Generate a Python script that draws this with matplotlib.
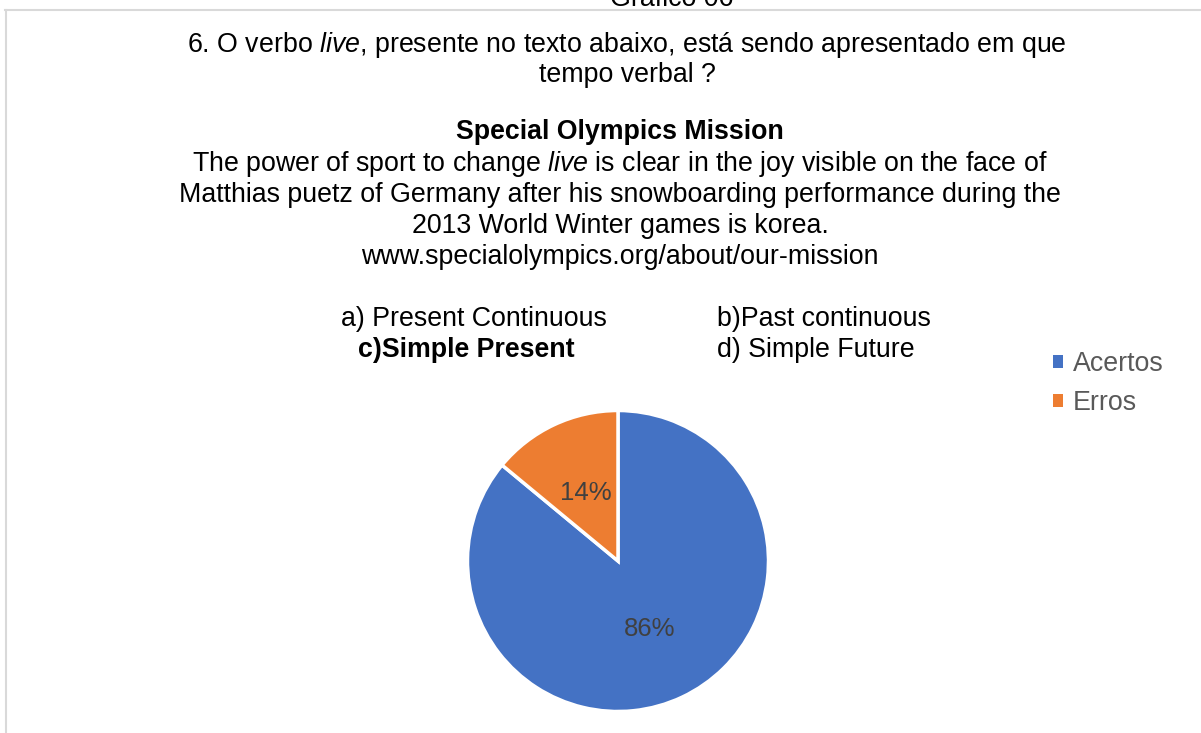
import matplotlib
matplotlib.use("Agg")
import matplotlib.pyplot as plt
from matplotlib.lines import Line2D

plt.rcParams['font.family'] = ['Liberation Sans', 'DejaVu Sans']
plt.rcParams['mathtext.fontset'] = 'custom'
plt.rcParams['mathtext.rm'] = 'Liberation Sans'
plt.rcParams['mathtext.it'] = 'Liberation Sans:italic'

# dados do gráfico
categorias = ['Acertos', 'Erros']
valores = [86, 14]
cores = ['#4472C4', '#ED7D31']

pergunta = ['6. O verbo $\\mathit{live}$, presente no texto abaixo, está sendo apresentado em que',
            'tempo verbal ?']
titulo_texto = 'Special Olympics Mission'
texto = ['The power of sport to change $\\mathit{live}$ is clear in the joy visible on the face of',
         'Matthias puetz of Germany after his snowboarding performance during the',
         '2013 World Winter games is korea.',
         'www.specialolympics.org/about/our-mission']
alternativas = [('a) Present Continuous', 'b)Past continuous'),
                ('c)Simple Present', 'd) Simple Future')]

W, H = 1201, 733
fig = plt.figure(figsize=(W / 100, H / 100), dpi=100)

def fx(px):
    return px / W

def fy(py):
    return 1 - py / H

# moldura do gráfico
fig.add_artist(Line2D([fx(5), fx(W)], [fy(9.5), fy(9.5)], color='#d9d9d9', lw=1.5))
fig.add_artist(Line2D([fx(5.5), fx(5.5)], [fy(9.5), fy(H)], color='#d9d9d9', lw=1.5))

fs = 19.3
fig.text(fx(672), fy(6), 'Gráfico 06', ha='center', va='baseline', fontsize=fs, color='black')

for i, linha in enumerate(pergunta):
    fig.text(fx(627), fy(45 + 30 * i), linha, ha='center', va='center', fontsize=fs, color='black')

fig.text(fx(620), fy(132), titulo_texto, ha='center', va='center', fontsize=fs,
         fontweight='bold', color='black')
for i, linha in enumerate(texto):
    fig.text(fx(620), fy(164 + 31 * i), linha, ha='center', va='center', fontsize=fs, color='black')

fig.text(fx(473.5), fy(319), alternativas[0][0], ha='center', va='center', fontsize=fs)
fig.text(fx(717), fy(319), alternativas[0][1], ha='left', va='center', fontsize=fs)
fig.text(fx(466.5), fy(350), alternativas[1][0], ha='center', va='center', fontsize=fs,
         fontweight='bold')
fig.text(fx(717), fy(350), alternativas[1][1], ha='left', va='center', fontsize=fs)

# pizza
cx, cy, r = 618, 561, 150.5
ax = fig.add_axes([fx(cx - r), 1 - (cy + r) / H, 2 * r / W, 2 * r / H])
wedges, _, autotexts = ax.pie(valores, colors=cores, startangle=90, counterclock=False,
                              autopct='%1.0f%%', pctdistance=0.5,
                              wedgeprops=dict(edgecolor='white', linewidth=2.5),
                              textprops=dict(color='#404040', fontsize=18.5))
ax.set_xlim(-1, 1)
ax.set_ylim(-1, 1)
ax.set_aspect('equal')
for w in wedges:
    w.set_clip_on(False)

leg = fig.legend(wedges, categorias, loc='upper left', bbox_to_anchor=(fx(1053), fy(351)),
                 frameon=False, fontsize=fs, labelcolor='#595959',
                 handlelength=0.38, handleheight=0.38, handletextpad=0.35,
                 labelspacing=0.5, borderpad=0, borderaxespad=0)
for h in leg.legend_handles:
    h.set_linewidth(0)

fig.savefig('out.png', dpi=100)
